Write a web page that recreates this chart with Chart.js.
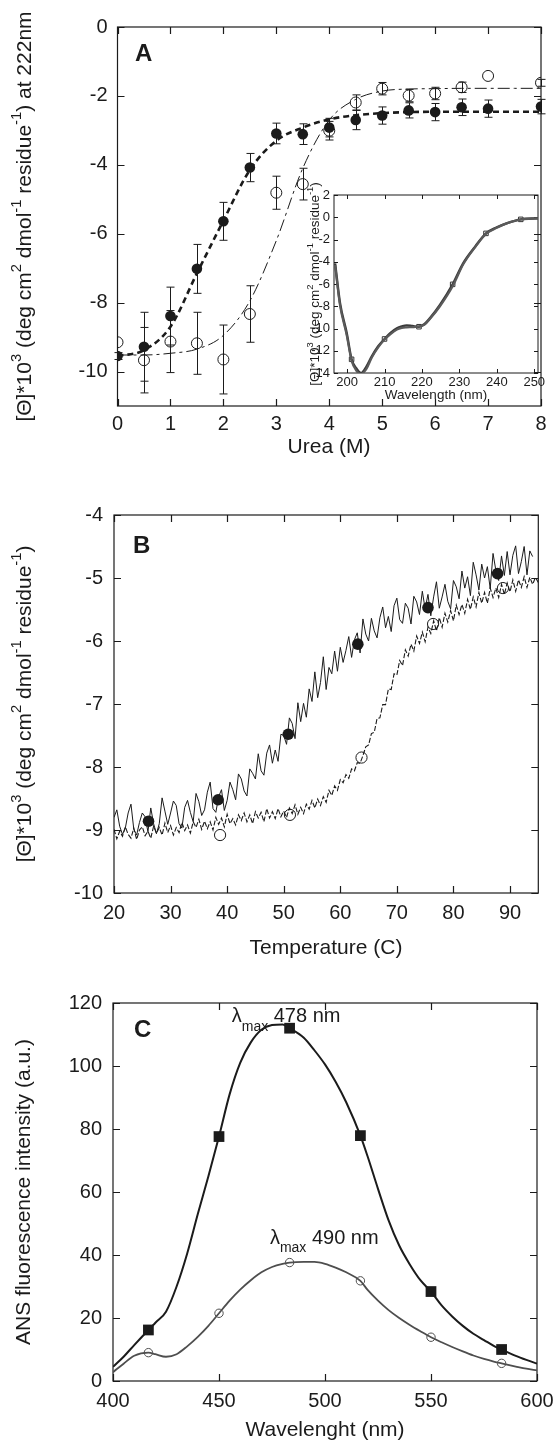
<!DOCTYPE html>
<html>
<head>
<meta charset="utf-8">
<script src="https://cdn.jsdelivr.net/npm/chart.js@4.4.1/dist/chart.umd.min.js"></script>
<style>
  html, body { margin: 0; padding: 0; background: #fff; }
  #wrap { position: relative; width: 554px; height: 1445px; overflow: hidden; }
  #wrap canvas { position: absolute; }
</style>
</head>
<body>
<div id="wrap">
  <canvas id="cA" width="554" height="470" style="left:0;top:0"></canvas>
  <canvas id="cInset" width="274" height="240" style="left:280px;top:170px"></canvas>
  <canvas id="cB" width="554" height="490" style="left:0;top:470px"></canvas>
  <canvas id="cC" width="554" height="485" style="left:0;top:960px"></canvas>
</div>
<script>
// figure: A urea denaturation (+ far-UV CD inset), B thermal unfolding, C ANS fluorescence

const FONT = "'Liberation Sans', Arial, Helvetica, sans-serif";
const INK = '#1b1b1b';

// ---- panel A : [Θ]222 vs urea
const urea        = [0, 0.5, 1, 1.5, 2, 2.5, 3, 3.5, 4, 4.5, 5, 5.5, 6, 6.5, 7, 8];
const filledTheta = [-9.55, -9.28, -8.39, -7.02, -5.64, -4.08, -3.09, -3.11, -2.92, -2.70, -2.57, -2.42, -2.47, -2.33, -2.37, -2.31];
const filledErr   = [0.1, 1.0, 0.84, 0.71, 0.55, 0.41, 0.3, 0.3, 0.27, 0.28, 0.25, 0.22, 0.25, 0.24, 0.25, 0.21];
const openTheta   = [-9.15, -9.67, -9.13, -9.18, -9.65, -8.33, -4.81, -4.56, -3.01, -2.19, -1.79, -1.99, -1.93, -1.75, -1.42, -1.62];
const openErr     = [0, 0.95, 0.9, 0.9, 1.0, 0.82, 0.48, 0.46, 0.27, 0.22, 0.18, 0.18, 0.18, 0.15, 0, 0.1];
const fitUrea     = [0, 0.5, 1, 1.5, 2, 2.5, 3, 3.5, 4, 4.5, 5, 5.5, 6, 6.5, 7, 7.5, 8];
const filledFit   = [-9.55, -9.38, -8.7, -7.15, -5.62, -4.15, -3.3, -2.92, -2.68, -2.56, -2.5, -2.47, -2.46, -2.46, -2.46, -2.46, -2.46];
const openFit     = [-9.52, -9.52, -9.47, -9.35, -8.95, -7.95, -6.2, -4.1, -2.7, -2.1, -1.86, -1.8, -1.79, -1.78, -1.78, -1.78, -1.78];
const ureaTicks   = [0, 1, 2, 3, 4, 5, 6, 7, 8];
const thetaATicks = [0, -2, -4, -6, -8, -10];

// ---- inset : far-UV CD spectra
const insetNm     = [196.8, 198.1, 199.9, 201.2, 202.5, 203.7, 205.2, 206.6, 208.3, 210.0, 211.6, 213.3, 214.6, 215.9, 217.5, 219.2, 220.7, 222.1, 224.8, 228.2, 231.0, 234.2, 237.1, 240.0, 242.6, 246.4, 251.0];
const insetCdA    = [-4.15, -7.7, -10.4, -12.77, -13.6, -14.0, -13.4, -12.5, -11.6, -10.94, -10.4, -9.99, -9.82, -9.72, -9.78, -9.84, -9.6, -9.09, -7.89, -6.03, -4.14, -2.64, -1.45, -0.9, -0.55, -0.19, -0.1];
const insetCdB    = [-4.3, -7.9, -10.6, -12.9, -13.8, -14.1, -13.6, -12.6, -11.7, -11.0, -10.5, -10.1, -9.95, -9.9, -9.88, -9.82, -9.65, -9.15, -8.0, -6.2, -4.25, -2.7, -1.5, -0.95, -0.55, -0.2, -0.1];
const insetMarkNm = [201.2, 210.0, 219.2, 228.2, 237.1, 246.4];
const insetMarkCd = [-12.77, -10.94, -9.84, -6.03, -1.45, -0.19];
const insetXTicks = [200, 210, 220, 230, 240, 250];
const insetYTicks = [2, 0, -2, -4, -6, -8, -10, -12, -14];

// ---- panel B : thermal scans
const temps = [20,20.5,21,21.5,22,22.5,23,23.5,24,24.5,25,25.5,26,26.5,27,27.5,28,28.5,29,29.5,
  30,30.5,31,31.5,32,32.5,33,33.5,34,34.5,35,35.5,36,36.5,37,37.5,38,38.5,39,39.5,
  40,40.5,41,41.5,42,42.5,43,43.5,44,44.5,45,45.5,46,46.5,47,47.5,48,48.5,49,49.5,
  50,50.5,51,51.5,52,52.5,53,53.5,54,54.5,55,55.5,56,56.5,57,57.5,58,58.5,59,59.5,
  60,60.5,61,61.5,62,62.5,63,63.5,64,64.5,65,65.5,66,66.5,67,67.5,68,68.5,69,69.5,
  70,70.5,71,71.5,72,72.5,73,73.5,74,74.5,75,75.5,76,76.5,77,77.5,78,78.5,79,79.5,
  80,80.5,81,81.5,82,82.5,83,83.5,84,84.5,85,85.5,86,86.5,87,87.5,88,88.5,89,89.5,
  90,90.5,91,91.5,92,92.5,93,93.5,94,94.5,95];
const scanSolid = [-8.80,-8.68,-8.94,-9.07,-8.97,-8.73,-8.59,-8.99,-9.08,-8.88,
  -8.73,-8.79,-9.03,-8.65,-8.90,-9.06,-8.90,-8.49,-8.70,-8.91,
  -8.73,-8.54,-8.61,-8.90,-8.97,-8.64,-8.53,-8.72,-8.87,-8.42,
  -8.55,-8.77,-8.68,-8.40,-8.24,-8.66,-8.72,-8.47,-8.36,-8.69,
  -8.53,-8.24,-8.36,-8.52,-8.11,-8.19,-8.38,-8.46,-8.03,-8.10,
  -8.19,-7.79,-8.06,-8.13,-7.78,-7.65,-7.94,-7.73,-7.91,-7.48,
  -7.50,-7.64,-7.22,-7.31,-7.55,-6.98,-7.28,-6.99,-7.21,-6.76,
  -6.96,-6.49,-6.90,-6.66,-6.25,-6.77,-6.42,-6.52,-6.16,-6.48,
  -6.10,-6.34,-6.15,-5.93,-6.26,-5.98,-5.87,-6.19,-5.65,-5.89,
  -6.00,-5.64,-5.84,-5.95,-5.63,-5.46,-5.79,-5.61,-5.85,-5.44,
  -5.32,-5.66,-5.72,-5.40,-5.48,-5.73,-5.29,-5.38,-5.58,-5.21,
  -5.49,-5.26,-5.60,-5.30,-5.06,-5.48,-5.30,-5.10,-5.37,-5.49,
  -5.04,-5.14,-5.33,-4.89,-5.16,-4.98,-5.28,-4.75,-4.95,-5.19,
  -4.78,-5.00,-4.82,-5.17,-4.61,-4.88,-5.04,-4.65,-4.96,-4.58,
  -4.95,-4.64,-4.49,-4.93,-4.74,-4.50,-4.95,-4.57,-4.66,null,
  null];
const scanDashed = [-8.99,-9.14,-9.02,-9.10,-8.95,-9.07,-9.13,-8.97,-9.15,-9.00,
  -8.95,-9.09,-9.02,-9.13,-8.94,-9.05,-8.96,-9.08,-8.89,-9.04,
  -8.93,-9.08,-8.96,-9.04,-8.88,-9.01,-8.92,-9.05,-8.87,-8.96,
  -8.83,-8.99,-8.86,-8.98,-8.87,-9.00,-8.80,-8.91,-8.81,-8.95,
  -8.75,-8.90,-8.82,-8.92,-8.76,-8.85,-8.73,-8.87,-8.76,-8.90,
  -8.71,-8.81,-8.72,-8.87,-8.66,-8.81,-8.71,-8.82,-8.66,-8.79,
  -8.70,-8.80,-8.65,-8.74,-8.60,-8.75,-8.64,-8.74,-8.59,-8.67,
  -8.53,-8.65,-8.51,-8.61,-8.47,-8.56,-8.37,-8.45,-8.30,-8.37,
  -8.20,-8.25,-8.12,-8.18,-8.03,-8.06,-7.93,-7.94,-7.82,-7.68,
  -7.65,-7.47,-7.45,-7.23,-7.22,-7.01,-7.01,-6.76,-6.77,-6.52,
  -6.54,-6.31,-6.39,-6.14,-6.24,-6.05,-6.16,-5.92,-6.04,-5.86,
  -6.01,-5.78,-5.88,-5.68,-5.84,-5.63,-5.78,-5.56,-5.70,-5.52,
  -5.68,-5.43,-5.58,-5.42,-5.56,-5.34,-5.50,-5.30,-5.46,-5.23,
  -5.40,-5.23,-5.40,-5.16,-5.31,-5.16,-5.31,-5.10,-5.26,-5.08,
  -5.22,-5.03,-5.21,-5.03,-5.15,-4.98,-5.15,-4.99,-5.10,-4.99,
  -5.07];
const markTempFilled = [26.1, 38.4, 50.8, 63.1, 75.5, 87.8];
const markFilled     = [-8.86, -8.52, -7.48, -6.05, -5.47, -4.93];
const markTempOpen   = [38.75, 51.1, 63.75, 76.4, 88.75];
const markOpen       = [-9.08, -8.76, -7.85, -5.73, -5.16];
const tempTicks   = [20, 30, 40, 50, 60, 70, 80, 90];
const thetaBTicks = [-4, -5, -6, -7, -8, -9, -10];

// ---- panel C : ANS emission
const emNm     = [400, 405, 410, 416.7, 420, 425, 430, 435, 440, 445, 450, 455, 460, 465, 470, 475, 480, 483.3, 490, 495, 500, 505, 510, 516.7, 520, 525, 530, 535, 540, 545, 550, 555, 560, 565, 570, 575, 580, 583.3, 590, 595, 600];
const emUpper  = [4.5, 7.7, 11.4, 16.2, 18.5, 22, 30, 40.5, 53, 65, 77.6, 91, 101, 107.5, 111.5, 113, 113.2, 112, 109, 105, 100.5, 95, 88.5, 77.9, 71.5, 61, 51, 43, 37, 32, 28.4, 24, 20.5, 17.5, 15, 13, 11, 10, 8, 6.7, 5.5];
const emLower  = [2.8, 5.5, 8.0, 9.0, 8.5, 7.7, 8.5, 11, 14, 17.5, 21.5, 25.5, 29, 32, 34.5, 36.2, 37.2, 37.6, 37.8, 37.8, 37.2, 36, 34.5, 31.8, 29, 25.5, 22.5, 20, 17.8, 15.8, 13.9, 12.3, 10.8, 9.4, 8.1, 7, 6.1, 5.6, 4.6, 3.9, 3.4];
const markNm     = [416.7, 450, 483.3, 516.7, 550, 583.3];
const markUpper  = [16.2, 77.6, 112.0, 77.9, 28.4, 10.0];
const markLower  = [9.0, 21.5, 37.6, 31.8, 13.9, 5.6];
const nmTicks    = [400, 450, 500, 550, 600];
const ansTicks   = [0, 20, 40, 60, 80, 100, 120];

const mk = (xs, ys) => xs.map((x, i) => ({ x, y: ys[i] }));

// text with super/subscripts, drawn centred (or left aligned) at x,y
function drawRich(ctx, segs, x, y, size, o) {
  ctx.save();
  ctx.translate(x, y);
  if (o.rot) ctx.rotate(o.rot);
  ctx.textBaseline = 'middle';
  ctx.textAlign = 'left';
  ctx.fillStyle = INK;
  const parts = segs.map(([t, k]) => {
    const s = k ? size * 0.7 : size;
    ctx.font = (o.bold ? 'bold ' : '') + s + 'px ' + FONT;
    return { t, k, f: ctx.font, w: ctx.measureText(t).width };
  });
  let cx = o.align === 'left' ? 0 : -parts.reduce((a, p) => a + p.w, 0) / 2;
  parts.forEach(p => {
    ctx.font = p.f;
    const dy = p.k === 'sup' ? -size * 0.36 : p.k === 'sub' ? size * 0.5 : 0;
    ctx.fillText(p.t, cx, dy);
    cx += p.w;
  });
  ctx.restore();
}

const textsPlugin = items => ({
  id: 'texts',
  afterDraw(chart) {
    items.forEach(it => {
      let x = it.x, y = it.y;
      if (it.vx !== undefined) {
        x = chart.scales.x.getPixelForValue(it.vx);
        y = chart.scales.y.getPixelForValue(it.vy);
      }
      drawRich(chart.ctx, it.segs, x, y, it.size, it);
    });
  }
});

// closed frame with inward ticks on all four sides
const framePlugin = (len, lw) => ({
  id: 'frame',
  beforeDatasetsDraw(chart) {
    const { ctx, chartArea: a, scales: { x, y } } = chart;
    ctx.save();
    ctx.strokeStyle = INK;
    ctx.lineWidth = lw;
    ctx.beginPath();
    x.ticks.forEach(t => {
      const px = Math.round(x.getPixelForValue(t.value)) + 0.5;
      ctx.moveTo(px, a.top); ctx.lineTo(px, a.top + len);
      ctx.moveTo(px, a.bottom); ctx.lineTo(px, a.bottom - len);
    });
    y.ticks.forEach(t => {
      const py = Math.round(y.getPixelForValue(t.value)) + 0.5;
      ctx.moveTo(a.left, py); ctx.lineTo(a.left + len, py);
      ctx.moveTo(a.right, py); ctx.lineTo(a.right - len, py);
    });
    ctx.stroke();
    ctx.strokeRect(a.left, a.top, a.right - a.left, a.bottom - a.top);
    ctx.restore();
  }
});

const errorBarsPlugin = sets => ({
  id: 'errorBars',
  beforeDatasetsDraw(chart) {
    const { ctx, scales: { x, y } } = chart;
    ctx.save();
    ctx.strokeStyle = INK;
    ctx.lineWidth = 1;
    sets.forEach(s => s.x.forEach((xv, i) => {
      const e = s.e[i];
      if (!e) return;
      const px = Math.round(x.getPixelForValue(xv)) + 0.5;
      const y1 = y.getPixelForValue(s.y[i] + e), y2 = y.getPixelForValue(s.y[i] - e);
      ctx.beginPath();
      ctx.moveTo(px, y1); ctx.lineTo(px, y2);
      ctx.moveTo(px - 4, y1); ctx.lineTo(px + 4, y1);
      ctx.moveTo(px - 4, y2); ctx.lineTo(px + 4, y2);
      ctx.stroke();
    }));
    ctx.restore();
  }
});

function scale(min, max, tickVals, size, pad, fit, isX) {
  return {
    type: 'linear', min, max,
    grid: { display: false, drawTicks: false },
    border: { display: false },
    ticks: { font: { family: FONT, size }, color: INK, padding: pad, autoSkip: false, maxRotation: 0, callback: v => String(v) },
    afterBuildTicks: s => { s.ticks = tickVals.map(v => ({ value: v })); },
    afterFit: s => {
      if (isX) { s.height = fit; s.paddingLeft = 0; s.paddingRight = 0; }
      else { s.width = fit; s.paddingTop = 0; s.paddingBottom = 0; }
    }
  };
}

const base = pad => ({
  responsive: false, animation: false, events: [],
  layout: { padding: pad },
  plugins: { legend: { display: false }, tooltip: { enabled: false } }
});

const thetaTitle = [['[Θ]*10', ''], ['3', 'sup'], [' (deg cm', ''], ['2', 'sup'], [' dmol', ''], ['-1', 'sup'], [' residue', ''], ['-1', 'sup'], [')', '']];
const ROT = -Math.PI / 2;

// ---------- A
new Chart(document.getElementById('cA'), {
  type: 'scatter',
  data: { datasets: [
    { data: mk(fitUrea, filledFit), showLine: true, borderColor: INK, borderWidth: 2.6, borderDash: [6, 4], pointRadius: 0, cubicInterpolationMode: 'monotone' },
    { data: mk(fitUrea, openFit), showLine: true, borderColor: INK, borderWidth: 1, borderDash: [12, 4, 3, 4], pointRadius: 0, cubicInterpolationMode: 'monotone' },
    { data: mk(urea, openTheta), pointRadius: 5.5, pointBackgroundColor: 'rgba(0,0,0,0)', pointBorderColor: INK, pointBorderWidth: 1 },
    { data: mk(urea, filledTheta), pointRadius: 5.3, pointBackgroundColor: INK, pointBorderColor: INK, pointBorderWidth: 0 }
  ]},
  options: Object.assign(base({ top: 27, right: 13, left: 0, bottom: 0 }), {
    scales: { x: scale(0, 8, ureaTicks, 20, 6, 64, true), y: scale(-11, 0, thetaATicks, 20, 10, 117.5, false) }
  }),
  plugins: [
    framePlugin(7, 1.2),
    errorBarsPlugin([{ x: urea, y: filledTheta, e: filledErr }, { x: urea, y: openTheta, e: openErr }]),
    textsPlugin([
      { segs: [['A', '']], x: 135, y: 54, size: 24, bold: true, align: 'left' },
      { segs: thetaTitle.slice(0, -1).concat([[') at 222nm', '']]), x: 25, y: 216.5, size: 21, rot: ROT },
      { segs: [['Urea (M)', '']], x: 329, y: 447, size: 21 }
    ])
  ]
});

// ---------- inset
new Chart(document.getElementById('cInset'), {
  type: 'scatter',
  data: { datasets: [
    { data: mk(insetNm, insetCdB), showLine: true, borderColor: '#5a5a5a', borderWidth: 2.2, pointRadius: 0, cubicInterpolationMode: 'monotone' },
    { data: mk(insetNm, insetCdA), showLine: true, borderColor: '#3a3a3a', borderWidth: 2.4, pointRadius: 0, cubicInterpolationMode: 'monotone' },
    { data: mk(insetMarkNm, insetMarkCd), pointStyle: 'rect', pointRadius: 3.2, pointBackgroundColor: '#fff', pointBorderColor: '#333', pointBorderWidth: 1 }
  ]},
  options: Object.assign(base({ top: 25, right: 16, left: 0, bottom: 0 }), {
    scales: { x: scale(196.5, 251, insetXTicks, 13, 2, 37, true), y: scale(-14, 2, insetYTicks, 13, 4, 54, false) }
  }),
  plugins: [
    framePlugin(4, 1),
    textsPlugin([
      { segs: thetaTitle, x: 35, y: 114, size: 13.5, rot: ROT },
      { segs: [['Wavelength (nm)', '']], x: 156, y: 225, size: 13.5 }
    ])
  ]
});

// ---------- B
new Chart(document.getElementById('cB'), {
  type: 'scatter',
  data: { datasets: [
    { data: mk(temps, scanDashed), showLine: true, borderColor: INK, borderWidth: 1.1, borderDash: [5, 2], pointRadius: 0 },
    { data: mk(temps, scanSolid), showLine: true, borderColor: INK, borderWidth: 1, pointRadius: 0 },
    { data: mk(markTempOpen, markOpen), pointRadius: 5.6, pointBackgroundColor: 'rgba(0,0,0,0)', pointBorderColor: INK, pointBorderWidth: 1 },
    { data: mk(markTempFilled, markFilled), pointRadius: 5.8, pointBackgroundColor: INK, pointBorderWidth: 0 }
  ]},
  options: Object.assign(base({ top: 45, right: 15.7, left: 0, bottom: 0 }), {
    scales: { x: scale(20, 95, tempTicks, 20, 8, 67, true), y: scale(-10, -4, thetaBTicks, 20, 11, 114, false) }
  }),
  plugins: [
    framePlugin(7, 1.2),
    textsPlugin([
      { segs: [['B', '']], x: 133, y: 76, size: 24, bold: true, align: 'left' },
      { segs: thetaTitle, x: 25, y: 234, size: 21, rot: ROT },
      { segs: [['Temperature (C)', '']], x: 326, y: 478, size: 21 }
    ])
  ]
});

// ---------- C
new Chart(document.getElementById('cC'), {
  type: 'scatter',
  data: { datasets: [
    { data: mk(emNm, emLower), showLine: true, borderColor: '#4e4e4e', borderWidth: 1.8, pointRadius: 0, cubicInterpolationMode: 'monotone' },
    { data: mk(emNm, emUpper), showLine: true, borderColor: INK, borderWidth: 2, pointRadius: 0, cubicInterpolationMode: 'monotone' },
    { data: mk(markNm, markLower), pointRadius: 4.2, pointBackgroundColor: 'rgba(0,0,0,0)', pointBorderColor: '#4e4e4e', pointBorderWidth: 1 },
    { data: mk(markNm, markUpper), pointStyle: 'rect', pointRadius: 7.6, pointBackgroundColor: INK, pointBorderWidth: 0 }
  ]},
  options: Object.assign(base({ top: 43, right: 17, left: 0, bottom: 0 }), {
    scales: { x: scale(400, 600, nmTicks, 20, 8, 64, true), y: scale(0, 120, ansTicks, 20, 11, 113, false) }
  }),
  plugins: [
    framePlugin(7, 1.2),
    textsPlugin([
      { segs: [['C', '']], x: 134, y: 70, size: 24, bold: true, align: 'left' },
      { segs: [['ANS fluorescence intensity (a.u.)', '']], x: 24, y: 232, size: 21, rot: ROT },
      { segs: [['Wavelenght (nm)', '']], x: 325, y: 470, size: 21 },
      { segs: [['λ', ''], ['max', 'sub'], [' 478 nm', '']], vx: 456, vy: 115.6, size: 20, align: 'left' },
      { segs: [['λ', ''], ['max', 'sub'], [' 490 nm', '']], vx: 474, vy: 45.4, size: 20, align: 'left' }
    ])
  ]
});
</script>
</body>
</html>
